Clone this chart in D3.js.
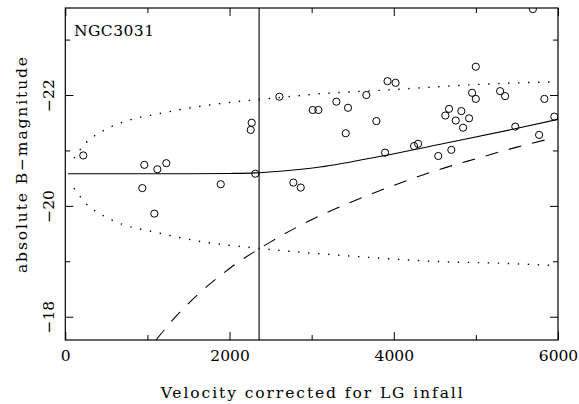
<!DOCTYPE html>
<html>
<head>
<meta charset="utf-8">
<script src="https://cdn.jsdelivr.net/npm/d3@7"></script>
<style>
  html, body { margin: 0; padding: 0; background: #fff; }
  svg { display: block; }
  text { font-family: "DejaVu Serif", serif; fill: #000; }
</style>
</head>
<body>
<svg id="chart" width="579" height="404"></svg>
<script>
// galaxies: velocity (km/s, LG corrected) and absolute B magnitude
const velocity = [219, 962, 1121, 1230, 938, 1084, 1893, 2270, 2258, 2314, 2607, 2777, 2867,
  3013, 3082, 3301, 3443, 3415, 3666, 3924, 4022, 3788, 3894, 4247, 4296, 4542, 4628,
  4673, 4701, 4755, 4823, 4844, 4917, 4954, 4999, 4999, 5295, 5356, 5480, 5694, 5770,
  5834, 5955];
const magnitude = [-20.91, -20.74, -20.66, -20.77, -20.32, -19.86, -20.39, -21.50, -21.37,
  -20.58, -21.97, -20.42, -20.33, -21.73, -21.73, -21.88, -21.77, -21.31, -22.00, -22.25,
  -22.22, -21.53, -20.96, -21.08, -21.12, -20.90, -21.63, -21.75, -21.01, -21.54, -21.71,
  -21.41, -21.58, -22.04, -21.93, -22.51, -22.07, -21.98, -21.43, -23.55, -21.28, -21.93,
  -21.61];

// expected mean magnitude (solid)
const meanV = [33, 1519, 2006, 2311, 2615, 3102, 3894, 4624, 5477, 6000];
const meanM = [-20.58, -20.58, -20.585, -20.595, -20.625, -20.70, -20.91, -21.13, -21.39, -21.56];

// +/- 1 sigma envelope (dotted)
const upperV = [106, 252, 455, 678, 922, 1166, 1527, 2027, 2514, 3001, 4016, 5011, 6000];
const upperM = [-20.86, -21.14, -21.35, -21.50, -21.60, -21.67, -21.77, -21.87, -21.94, -22.01, -22.10, -22.19, -22.24];
const lowerV = [106, 252, 455, 687, 1052, 1418, 1762, 2107, 2655, 3427, 3995, 4645, 5213, 6000];
const lowerM = [-20.32, -20.04, -19.83, -19.67, -19.54, -19.42, -19.33, -19.27, -19.19, -19.10, -19.04, -18.99, -18.97, -18.92];

// magnitude limit (dashed)
const limitV = [1105, 1300, 1600, 2000, 2500, 3000, 3500, 4000, 4500, 5000, 5500, 5900];
const limitM = [-17.58, -17.93, -18.38, -18.87, -19.35, -19.75, -20.08, -20.37, -20.63, -20.85, -21.06, -21.21];

const cutVelocity = 2360;
const xMajor = [0, 2000, 4000, 6000];
const xMinor = [1000, 3000, 5000];
const yMajor = [-18, -20, -22];
const yMinor = [-19, -21, -23];

const svg = d3.select("#chart");
const box = { left: 65.3, right: 558, top: 8, bottom: 340 };

const x = d3.scaleLinear().domain([0, 6000]).range([box.left, box.right]);
const y = d3.scaleLinear().domain([-17.58, -23.57]).range([box.bottom, box.top]);

const fmt = (d) => (d < 0 ? "\u2212" + Math.abs(d) : String(d));

// ticks, all pointing inward
function addAxis(axis, transform) {
  const g = svg.append("g").attr("transform", transform).call(axis);
  g.select(".domain").remove();
  g.selectAll("line").attr("stroke", "#000").attr("stroke-width", 1);
  return g;
}

const xb = addAxis(d3.axisBottom(x).tickValues(xMajor).tickSize(-8).tickPadding(10).tickFormat(fmt),
  `translate(0,${box.bottom})`);
xb.selectAll("text").attr("font-size", 15.5).attr("font-family", "DejaVu Serif").attr("fill", "#000");
addAxis(d3.axisBottom(x).tickValues(xMinor).tickSize(-5).tickFormat(""), `translate(0,${box.bottom})`);
addAxis(d3.axisTop(x).tickValues(xMajor).tickSize(-8).tickFormat(""), `translate(0,${box.top})`);
addAxis(d3.axisTop(x).tickValues(xMinor).tickSize(-5).tickFormat(""), `translate(0,${box.top})`);

const yl = addAxis(d3.axisLeft(y).tickValues(yMajor).tickSize(-8).tickFormat(fmt),
  `translate(${box.left},0)`);
yl.selectAll("text")
  .attr("x", null).attr("dy", null)
  .attr("transform", "translate(-11.3,0) rotate(-90)")
  .attr("text-anchor", "middle")
  .attr("font-size", 15.5).attr("font-family", "DejaVu Serif").attr("fill", "#000");
addAxis(d3.axisLeft(y).tickValues(yMinor).tickSize(-5).tickFormat(""), `translate(${box.left},0)`);
addAxis(d3.axisRight(y).tickValues(yMajor).tickSize(-8).tickFormat(""), `translate(${box.right},0)`);
addAxis(d3.axisRight(y).tickValues(yMinor).tickSize(-5).tickFormat(""), `translate(${box.right},0)`);

svg.append("rect")
  .attr("x", box.left).attr("y", box.top)
  .attr("width", box.right - box.left).attr("height", box.bottom - box.top)
  .attr("fill", "none").attr("stroke", "#000").attr("stroke-width", 1.2);

svg.append("defs").append("clipPath").attr("id", "plot")
  .append("rect").attr("x", box.left).attr("y", box.top)
  .attr("width", box.right - box.left).attr("height", box.bottom - box.top);

const plot = svg.append("g").attr("clip-path", "url(#plot)");

const line = d3.line().x((d) => x(d[0])).y((d) => y(d[1])).curve(d3.curveMonotoneX);

function drawCurve(vs, ms, dash, width) {
  plot.append("path")
    .datum(d3.zip(vs, ms))
    .attr("d", line)
    .attr("fill", "none")
    .attr("stroke", "#000")
    .attr("stroke-width", width)
    .attr("stroke-dasharray", dash);
}

drawCurve(meanV, meanM, null, 1.1);
drawCurve(upperV, upperM, "1.4,8.6", 1.4);
drawCurve(lowerV, lowerM, "1.4,8.6", 1.4);
drawCurve(limitV, limitM, "13,11", 1.1);

plot.append("line")
  .attr("x1", x(cutVelocity)).attr("x2", x(cutVelocity))
  .attr("y1", box.top).attr("y2", box.bottom)
  .attr("stroke", "#000").attr("stroke-width", 1.1);

plot.append("g")
  .selectAll("circle")
  .data(d3.zip(velocity, magnitude))
  .join("circle")
  .attr("cx", (d) => x(d[0]))
  .attr("cy", (d) => y(d[1]))
  .attr("r", 3.6)
  .attr("fill", "none")
  .attr("stroke", "#000")
  .attr("stroke-width", 1);

svg.append("text")
  .attr("x", 74).attr("y", 36)
  .attr("font-size", 15.5)
  .attr("textLength", 80)
  .text("NGC3031");

svg.append("text")
  .attr("x", (box.left + box.right) / 2).attr("y", 398)
  .attr("text-anchor", "middle")
  .attr("font-size", 15.5)
  .attr("textLength", 302)
  .text("Velocity corrected for LG infall");

svg.append("text")
  .attr("transform", "translate(27,165) rotate(-90)")
  .attr("text-anchor", "middle")
  .attr("font-size", 15.5)
  .attr("textLength", 216)
  .text("absolute B\u2212magnitude");
</script>
</body>
</html>
